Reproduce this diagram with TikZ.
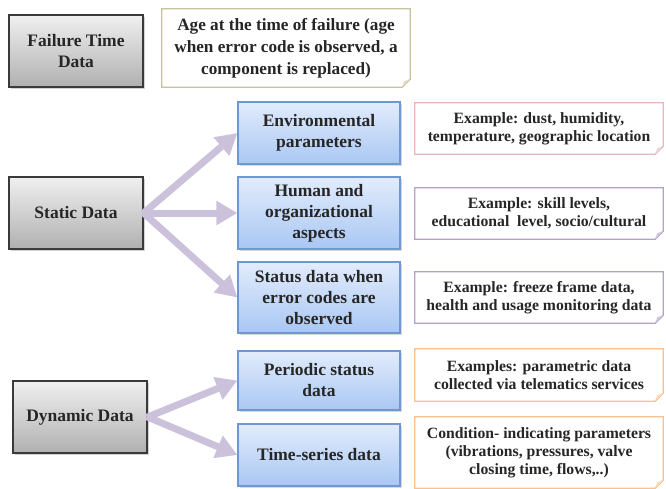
\documentclass[tikz,border=0pt]{standalone}
\usepackage{fontspec}
\setmainfont{Liberation Serif}
\usetikzlibrary{arrows.meta,shadows}
\definecolor{txt}{HTML}{262626}
\definecolor{blueb}{HTML}{6F97D0}
\definecolor{bluetop}{HTML}{E2ECFC}
\definecolor{bluebot}{HTML}{A9C7F3}
\definecolor{grayb}{HTML}{3A3A3A}
\definecolor{graytop}{HTML}{F0F0F0}
\definecolor{graybot}{HTML}{B0B0B0}
\definecolor{arrowc}{HTML}{CCC1DA}
\definecolor{olive}{HTML}{C9C29E}
\definecolor{pinkb}{HTML}{E6B9B8}
\definecolor{purpb}{HTML}{B3A2C7}
\definecolor{orangeb}{HTML}{FAC090}
\tikzset{
  lbl/.style={font=\bfseries\fontsize{17.5}{21}\selectfont, text=txt, align=center},
  notelbl/.style={font=\bfseries\fontsize{15.7}{18}\selectfont, text=txt, align=center},
  agelbl/.style={font=\bfseries\fontsize{17.2}{22}\selectfont, text=txt, align=center},
  graybox/.style={lbl, draw=grayb, line width=1.2pt, top color=graytop, bottom color=graybot,
    drop shadow={shadow xshift=2pt, shadow yshift=-2pt, opacity=0.35}, minimum width=134pt, minimum height=72pt},
  bluebox/.style={lbl, draw=blueb, line width=1.2pt, top color=bluetop, bottom color=bluebot,
    drop shadow={shadow xshift=2pt, shadow yshift=-2pt, opacity=0.3}, minimum width=162pt},
  notebox/.style={minimum width=248pt},
  bigarrow/.style={draw=arrowc, line width=7pt, -{Triangle[length=21pt,width=23pt]}, shorten <=-1pt},
}
\newcommand{\notefold}[2]{%
  \draw[#2, line width=1.3pt, fill=white] (#1.north west) -- (#1.north east) -- ([yshift=8pt]#1.south east) -- ([xshift=-8pt]#1.south east) -- (#1.south west) -- cycle;
  \fill[#2!60] ([yshift=8pt]#1.south east) -- ([xshift=-8pt]#1.south east) -- ([xshift=-6pt,yshift=6pt]#1.south east) -- cycle;
}
\begin{document}
\begin{tikzpicture}[x=1pt,y=-1pt]
\useasboundingbox (0,0) rectangle (666,489);
% left gray boxes
\node[graybox] (ftd) at (76,51) {Failure Time\\Data};
\node[graybox] (sd) at (76,213) {Static Data};
\node[graybox] (dd) at (80,417) {Dynamic Data};
% blue boxes
\node[bluebox, minimum height=62pt] (env) at (319,133) {Environmental\\parameters};
\node[bluebox, minimum height=72pt] (hum) at (319,213) {Human and\\organizational\\aspects};
\node[bluebox, minimum height=71pt] (sta) at (319,297.5) {Status data when\\error codes are\\observed};
\node[bluebox, minimum height=59pt] (per) at (319,380.5) {Periodic status\\data};
\node[bluebox, minimum height=62pt] (tim) at (319,455) {Time-series data};
% note boxes
\node[notebox, minimum height=78pt] (age) at (286,48) {};
\notefold{age}{olive}
\node[agelbl] (agetxt) at (age.center) {Age at the time of failure (age\\when error code is observed, a\\component is replaced)};
\node[notebox, minimum height=51pt] (ex1) at (539,128.5) {};
\notefold{ex1}{pinkb}
\node[notelbl] (ex1txt) at (ex1.center) {Example: dust, humidity,\\temperature, geographic location};
\node[notebox, minimum height=51pt] (ex2) at (539,213.5) {};
\notefold{ex2}{purpb}
\node[notelbl] (ex2txt) at (ex2.center) {Example: skill levels,\\educational\ \ level, socio/cultural};
\node[notebox, minimum height=51pt] (ex3) at (539,297.5) {};
\notefold{ex3}{purpb}
\node[notelbl] (ex3txt) at (ex3.center) {Example: freeze frame data,\\health and usage monitoring data};
\node[notebox, minimum height=52pt] (ex4) at (539,375) {};
\notefold{ex4}{orangeb}
\node[notelbl] (ex4txt) at (ex4.center) {Examples: parametric data\\collected via telematics services};
\node[notebox, minimum height=71pt] (ex5) at (539,452.5) {};
\notefold{ex5}{orangeb}
\node[notelbl] (ex5txt) at (ex5.center) {Condition- indicating parameters\\(vibrations, pressures, valve\\closing time, flows,..)};
% arrows
\draw[bigarrow] (sd.east) -- (env.west);
\draw[bigarrow] (sd.east) -- (hum.west);
\draw[bigarrow] (sd.east) -- (sta.west);
\draw[bigarrow] (dd.east) -- (per.west);
\draw[bigarrow] (dd.east) -- (tim.west);
\end{tikzpicture}
\end{document}
